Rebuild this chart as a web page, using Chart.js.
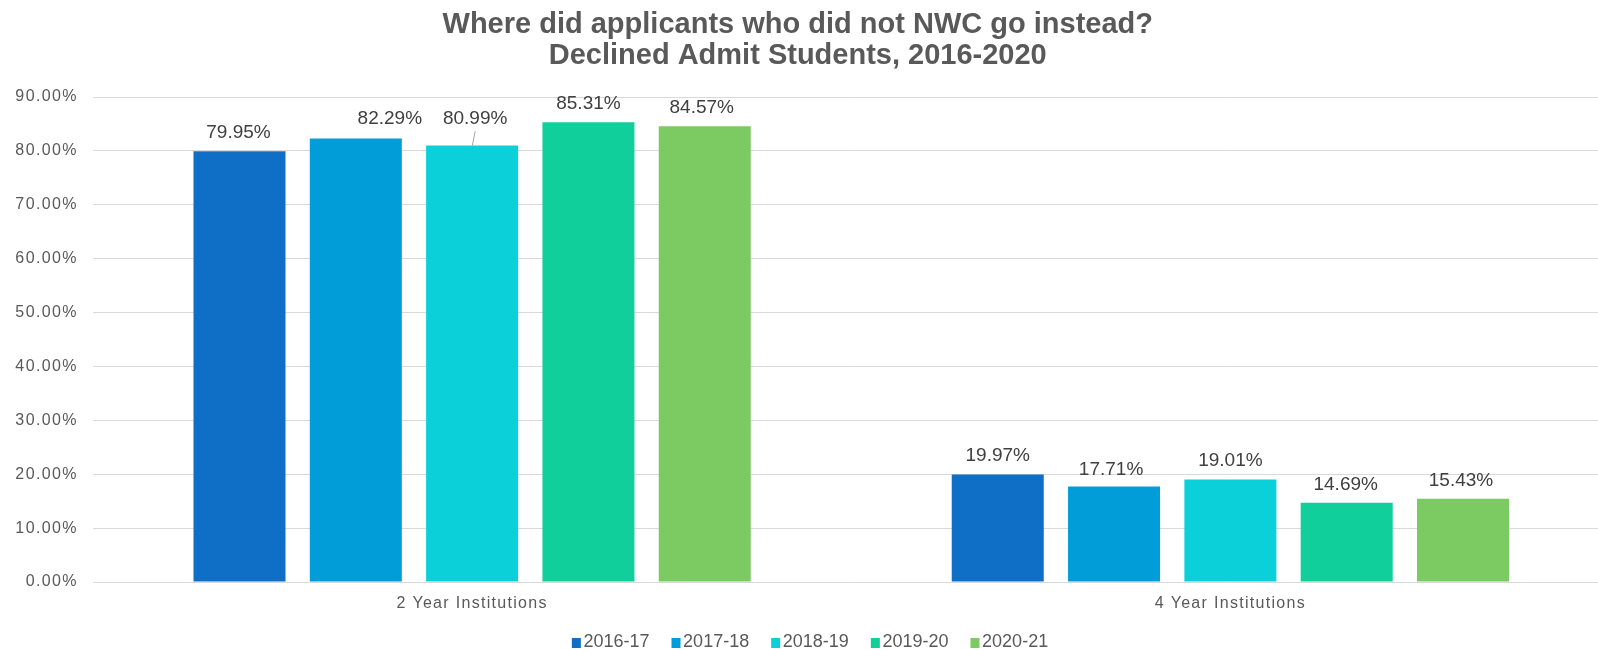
<!DOCTYPE html>
<html><head><meta charset="utf-8">
<script src="https://cdn.jsdelivr.net/npm/chart.js@4"></script>
<style>
html,body{margin:0;padding:0;background:#fff;overflow:hidden;width:1598px;height:650px;}
#wrap{position:absolute;left:-14px;top:0;width:1626px;height:650px;}
canvas{display:block;}
</style></head><body>
<div id="wrap"><canvas id="c" width="1626" height="650"></canvas></div>
<script>
// ---- data ----
const titleLines = ['Where did applicants who did not NWC go instead?', 'Declined Admit Students, 2016-2020'];
const categories = ['2 Year Institutions', '4 Year Institutions'];
const seriesNames = ['2016-17', '2017-18', '2018-19', '2019-20', '2020-21'];
const v2016_17 = [79.95, 19.97];
const v2017_18 = [82.29, 17.71];
const v2018_19 = [80.99, 19.01];
const v2019_20 = [85.31, 14.69];
const v2020_21 = [84.57, 15.43];
const seriesValues = [v2016_17, v2017_18, v2018_19, v2019_20, v2020_21];
const yTickValues = [0, 10, 20, 30, 40, 50, 60, 70, 80, 90];

// ---- styles ----
const colors = ['#0F6FC6', '#009DD9', '#0BD0D9', '#10CF9B', '#7CCA62'];
const FONT = "'Liberation Sans', Arial, Helvetica, sans-serif";
// per-label nudges [dx, dy] (dataset x category), as placed in the original
const labelNudges = [
  [[-1, 0], [0, 0]],
  [[34, -1], [-3, 2]],
  [[3, -8.5], [0, 0]],
  [[0, 0], [-1, 0]],
  [[-3, 0], [-2, 0]]
];
const leaderLines = [[2, 0]]; // dataset, category with a leader line

function spaced(scale, sp) {
  if (scale._spWrapped) return;
  scale._spWrapped = true;
  const orig = scale.drawLabels;
  scale.drawLabels = function (area) {
    const ctx = this.ctx;
    ctx.save();
    try { ctx.letterSpacing = sp; } catch (e) {}
    orig.call(this, area);
    ctx.restore();
  };
}

const labelPlugin = {
  id: 'barLabels',
  afterDatasetsDraw(chart) {
    const ctx = chart.ctx;
    ctx.save();
    ctx.font = '19px ' + FONT;
    ctx.fillStyle = '#404040';
    ctx.textAlign = 'center';
    ctx.textBaseline = 'middle';
    chart.data.datasets.forEach((ds, i) => {
      const meta = chart.getDatasetMeta(i);
      meta.data.forEach((bar, j) => {
        const n = labelNudges[i][j];
        const lx = bar.x + n[0];
        const ly = bar.y - 18.5 + n[1];
        ctx.fillText(ds.data[j].toFixed(2) + '%', lx, ly);
      });
    });
    ctx.strokeStyle = '#A6A6A6';
    ctx.lineWidth = 1;
    leaderLines.forEach(([i, j]) => {
      const bar = chart.getDatasetMeta(i).data[j];
      const n = labelNudges[i][j];
      ctx.beginPath();
      ctx.moveTo(bar.x + n[0], bar.y - 18.5 + n[1] + 12.8);
      ctx.lineTo(bar.x + 0.2, bar.y);
      ctx.stroke();
    });
    ctx.restore();
  },
  afterDraw(chart) {
    const ctx = chart.ctx;
    ctx.save();
    ctx.font = '18px ' + FONT;
    ctx.textBaseline = 'middle';
    ctx.textAlign = 'left';
    const box = 9, gap = 2.6, between = 22;
    const items = chart.data.datasets.map(ds => ({ label: ds.label, color: ds.backgroundColor, w: ctx.measureText(ds.label).width }));
    const total = items.reduce((s, it) => s + box + gap + it.w, 0) + between * (items.length - 1);
    let x = chart.width / 2 + 11 - total / 2;
    const cy = 643;
    items.forEach(it => {
      ctx.fillStyle = it.color;
      ctx.fillRect(x, cy - 5, box, 10);
      ctx.fillStyle = '#595959';
      ctx.fillText(it.label, x + box + gap, cy - 0.5);
      x += box + gap + it.w + between;
    });
    ctx.restore();
  }
};

const chart = new Chart(document.getElementById('c'), {
  type: 'bar',
  data: {
    labels: categories,
    datasets: seriesNames.map((name, i) => ({
      label: name,
      data: seriesValues[i],
      backgroundColor: colors[i],
      borderWidth: 0,
      categoryPercentage: 0.767,
      barPercentage: 0.791
    }))
  },
  options: {
    responsive: false,
    animation: false,
    devicePixelRatio: 1,
    layout: { padding: { left: 0, right: 2.5, top: 0, bottom: 28 } },
    plugins: {
      legend: { display: false },
      tooltip: { enabled: false },
      title: {
        display: true,
        text: titleLines,
        color: '#595959',
        font: { family: FONT, size: 29, weight: 'bold', lineHeight: 31 / 29 },
        padding: { top: 9.5, bottom: 25.5 }
      }
    },
    scales: {
      x: {
        grid: { display: false, drawTicks: false },
        border: { display: false },
        ticks: { color: '#595959', font: { family: FONT, size: 16 }, padding: 12, maxRotation: 0 },
        afterFit(scale) { scale.height = 40; spaced(scale, '1.3px'); }
      },
      y: {
        min: 0, max: 90,
        grid: { color: '#D9D9D9', lineWidth: 1, drawTicks: false },
        border: { display: false },
        afterBuildTicks(scale) { scale.ticks = yTickValues.map(v => ({ value: v })); },
        ticks: {
          color: '#595959',
          font: { family: FONT, size: 16 },
          padding: 15,
          callback: (v) => Number(v).toFixed(2) + '%'
        },
        afterFit(scale) { scale.width = 107; spaced(scale, '1.4px'); }
      }
    }
  },
  plugins: [labelPlugin]
});
</script>
</body></html>
